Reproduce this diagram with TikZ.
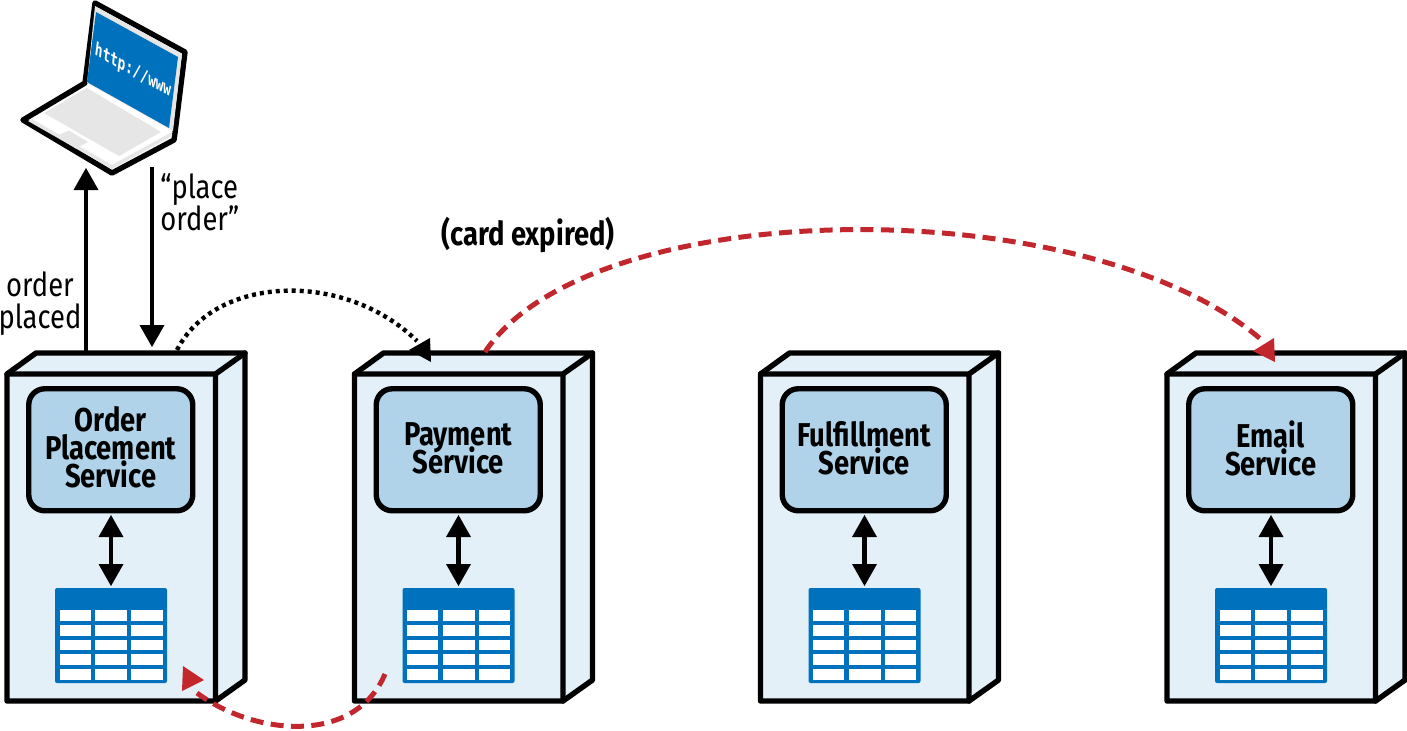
\documentclass[tikz,border=0pt]{standalone}
\usepackage{fontspec}
\setmainfont[FakeStretch=0.83]{Fira Sans}
\newfontfamily\monof[FakeStretch=0.8]{DejaVu Sans Mono}
\definecolor{pale}{HTML}{E3F0F8}
\definecolor{midb}{HTML}{B0D3E9}
\definecolor{deepb}{HTML}{0071BC}
\definecolor{redd}{HTML}{C1272D}
\definecolor{lgray}{HTML}{E6E6E6}
\lineskiplimit=-20pt
\tikzset{
 x=0.5pt,y=-0.5pt,
 outl/.style={draw=black,line width=2.7pt,line join=round,line cap=round},
 svcbox/.style={outl,fill=midb,rounded corners=8pt,minimum width=82pt,minimum height=61pt,inner sep=0pt,
   font=\fontsize{16.5pt}{14pt}\selectfont\bfseries},
 conn/.style={line width=2.3pt},
 redconn/.style={draw=redd,line width=2.5pt,dash pattern=on 6.5pt off 3.7pt},
 dotconn/.style={draw=black,line width=2.2pt,dash pattern=on 2pt off 2pt},
 lab/.style={font=\fontsize{16.5pt}{16pt}\selectfont,align=center,inner sep=0pt},
 blk/.style={fill=black},
 redh/.style={fill=redd},
}
\newcommand{\headdown}[2]{\fill[blk] (#1,#2) -- ++(-12.5,-22) -- ++(25,0) -- cycle;}
\newcommand{\headup}[2]{\fill[blk] (#1,#2) -- ++(-12.5,22) -- ++(25,0) -- cycle;}
\newcommand{\svc}[4]{%
 \begin{scope}[shift={(#1,0)}]
  \draw[outl,fill=pale] (7,374) -- (36,353) -- (245,353) -- (245,680) -- (215.5,701) -- (7,701) -- cycle;
  \draw[outl] (7,374) -- (215.5,374) -- (215.5,701) (215.5,374) -- (245,353);
  \node[svcbox] (#2) at (110.75,449.75) {\vbox{\hsize=78pt\parindent=0pt\centering #3\par\kern#4}};
  \coordinate (#2db) at (111,588);
  \draw[conn] (111,536) -- (111,566);
  \headup{111}{515}
  \headdown{111}{586}
  \fill[deepb,rounded corners=1pt] (55,588) rectangle (167,683);
  \foreach \ya/\yb in {609.5/621,624.5/635.5,639.5/650,654/664.5,669/679.5}{
   \foreach \xa/\xb in {59.5/90.5,95/127,131/162.5}{
    \fill[white] (\xa,\ya) rectangle (\xb,\yb);
   }}
 \end{scope}}
\begin{document}
\begin{tikzpicture}
\useasboundingbox (0,0) rectangle (1407,730);
% laptop
\draw[outl,fill=white] (95,3) -- (185,52) -- (175,133) -- (174,140) -- (112,173) -- (23,120) -- (85,83) -- cycle;
\fill[lgray] (28,121) -- (112,169) -- (172,136) -- (172,132) -- (112,165) -- (32,119) -- cycle;
\fill[lgray] (95,6) -- (182,54) -- (173,131) -- (87,83) -- cycle;
\fill[deepb] (96,12) -- (178,57) -- (169,128) -- (87,82) -- cycle;
\fill[lgray] (44,113) -- (87,88) -- (161,132) -- (119,156) -- cycle;
\fill[lgray] (56,136) -- (69,130.5) -- (88,142) -- (76,148.5) -- cycle;
\begin{scope}[shift={(133,71)},cm={.875,-.485,.122,.99,(0,0)}]
\node[transform shape,text=white,inner sep=0pt,font=\monof\bfseries\fontsize{9pt}{10pt}\selectfont] (url) at (0,0) {http://www};
\end{scope}
% services
\svc{0}{order}{Order\\Placement\\Service}{3pt}
\svc{347.5}{pay}{Payment\\Service}{1.5pt}
\svc{753.5}{ful}{Fulfillment\\Service}{1.5pt}
\svc{1160}{mail}{Email\\Service}{1.5pt}
\coordinate (laptopb) at (86,190);
\coordinate (orderup) at (86,353);
\coordinate (laptopc) at (152,167);
\coordinate (orderin) at (152,328);
\draw[conn] (orderup) -- (laptopb);
\headup{86}{168}
\draw[conn] (laptopc) -- (orderin);
\headdown{152}{347}
% dotted
\coordinate (da) at (177,350);
\coordinate (db) at (417,341);
\draw[dotconn] (da) .. controls (215,275) and (345,270) .. (db);
\fill[blk] (409,350) -- (430,338) -- (431,362) -- cycle;
% red top
\coordinate (ra) at (485,352);
\coordinate (rb) at (1264,342);
\draw[redconn] (ra) .. controls (590,193) and (1090,188) .. (rb);
\fill[redh] (1275,362) -- (1253,351) -- (1274,338) -- cycle;
% red bottom
\coordinate (sa) at (385,674);
\coordinate (sb) at (197,693);
\draw[redconn] (sa) .. controls (355,745) and (255,736) .. (sb);
\fill[redh] (204,680) -- (183,666) -- (182,691) -- cycle;
% labels
\node[lab] (lorder) at (40,304) {order\\placed};
\node[lab,align=left,anchor=west] (lplace) at (160,202) {“place\\order”};
\node[lab,font=\fontsize{16.5pt}{16pt}\selectfont\bfseries] (lcard) at (528,235) {(card expired)};
\end{tikzpicture}
\end{document}
